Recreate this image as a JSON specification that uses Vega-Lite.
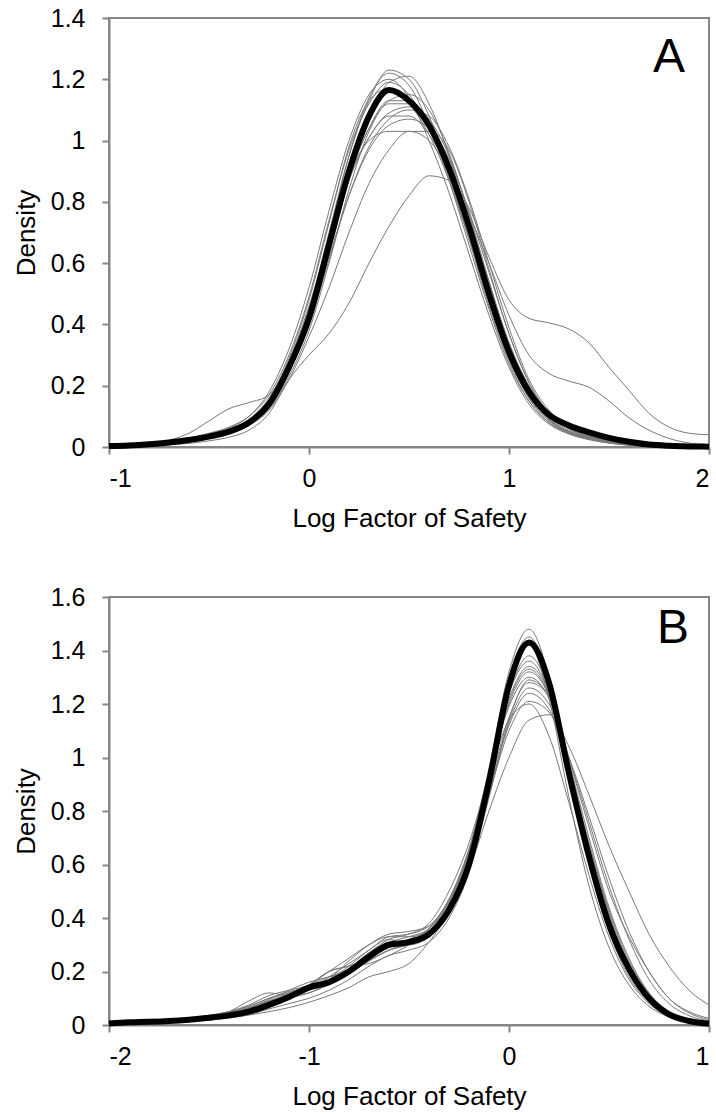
{
"$schema":"https://vega.github.io/schema/vega-lite/v6.json",
"padding":{"left":12,"top":5,"right":5,"bottom":5},
"spacing":52,
"config":{"font":"Liberation Sans","view":{"stroke":"#868686","strokeWidth":2},
"axis":{"grid":false,"domainColor":"#868686","domainWidth":2,"tickColor":"#868686","tickWidth":2,"tickSize":7,"labelFont":"Liberation Sans","labelFontSize":25,"labelColor":"#000000","titleFont":"Liberation Sans","titleFontSize":26,"titleFontWeight":"normal","titleColor":"#000000"}},
"datasets":{
"A":[
{"s":"k","x":-1,"y":0.003},{"s":"k","x":-0.9,"y":0.005},{"s":"k","x":-0.8,"y":0.009},{"s":"k","x":-0.7,"y":0.015},{"s":"k","x":-0.6,"y":0.023},{"s":"k","x":-0.5,"y":0.034},{"s":"k","x":-0.4,"y":0.05},{"s":"k","x":-0.3,"y":0.08},{"s":"k","x":-0.2,"y":0.14},{"s":"k","x":-0.1,"y":0.26},{"s":"k","x":0,"y":0.42},{"s":"k","x":0.1,"y":0.66},{"s":"k","x":0.2,"y":0.9},{"s":"k","x":0.3,"y":1.08},{"s":"k","x":0.4,"y":1.165},{"s":"k","x":0.5,"y":1.13},{"s":"k","x":0.6,"y":1.05},{"s":"k","x":0.7,"y":0.91},{"s":"k","x":0.8,"y":0.72},{"s":"k","x":0.9,"y":0.5},{"s":"k","x":1,"y":0.31},{"s":"k","x":1.1,"y":0.18},{"s":"k","x":1.2,"y":0.105},{"s":"k","x":1.3,"y":0.07},{"s":"k","x":1.4,"y":0.048},{"s":"k","x":1.5,"y":0.03},{"s":"k","x":1.6,"y":0.017},{"s":"k","x":1.7,"y":0.008},{"s":"k","x":1.8,"y":0.004},{"s":"k","x":1.9,"y":0.002},{"s":"k","x":2,"y":0.001},
{"s":"g1","x":-1,"y":0.002},{"s":"g1","x":-0.9,"y":0.004},{"s":"g1","x":-0.8,"y":0.007},{"s":"g1","x":-0.7,"y":0.012},{"s":"g1","x":-0.6,"y":0.02},{"s":"g1","x":-0.5,"y":0.03},{"s":"g1","x":-0.4,"y":0.045},{"s":"g1","x":-0.3,"y":0.075},{"s":"g1","x":-0.2,"y":0.14},{"s":"g1","x":-0.1,"y":0.27},{"s":"g1","x":0,"y":0.45},{"s":"g1","x":0.1,"y":0.7},{"s":"g1","x":0.2,"y":0.95},{"s":"g1","x":0.3,"y":1.13},{"s":"g1","x":0.4,"y":1.23},{"s":"g1","x":0.5,"y":1.2},{"s":"g1","x":0.6,"y":1.08},{"s":"g1","x":0.7,"y":0.9},{"s":"g1","x":0.8,"y":0.68},{"s":"g1","x":0.9,"y":0.46},{"s":"g1","x":1,"y":0.28},{"s":"g1","x":1.1,"y":0.15},{"s":"g1","x":1.2,"y":0.08},{"s":"g1","x":1.3,"y":0.045},{"s":"g1","x":1.4,"y":0.025},{"s":"g1","x":1.5,"y":0.013},{"s":"g1","x":1.6,"y":0.006},{"s":"g1","x":1.7,"y":0.003},{"s":"g1","x":1.8,"y":0.001},{"s":"g1","x":1.9,"y":0.001},{"s":"g1","x":2,"y":0},
{"s":"g2","x":-1,"y":0.002},{"s":"g2","x":-0.9,"y":0.004},{"s":"g2","x":-0.8,"y":0.008},{"s":"g2","x":-0.7,"y":0.014},{"s":"g2","x":-0.6,"y":0.022},{"s":"g2","x":-0.5,"y":0.033},{"s":"g2","x":-0.4,"y":0.05},{"s":"g2","x":-0.3,"y":0.08},{"s":"g2","x":-0.2,"y":0.14},{"s":"g2","x":-0.1,"y":0.25},{"s":"g2","x":0,"y":0.41},{"s":"g2","x":0.1,"y":0.63},{"s":"g2","x":0.2,"y":0.87},{"s":"g2","x":0.3,"y":1.06},{"s":"g2","x":0.4,"y":1.19},{"s":"g2","x":0.5,"y":1.21},{"s":"g2","x":0.6,"y":1.12},{"s":"g2","x":0.7,"y":0.95},{"s":"g2","x":0.8,"y":0.73},{"s":"g2","x":0.9,"y":0.5},{"s":"g2","x":1,"y":0.3},{"s":"g2","x":1.1,"y":0.16},{"s":"g2","x":1.2,"y":0.085},{"s":"g2","x":1.3,"y":0.048},{"s":"g2","x":1.4,"y":0.028},{"s":"g2","x":1.5,"y":0.015},{"s":"g2","x":1.6,"y":0.007},{"s":"g2","x":1.7,"y":0.003},{"s":"g2","x":1.8,"y":0.001},{"s":"g2","x":1.9,"y":0.001},{"s":"g2","x":2,"y":0},
{"s":"g3","x":-1,"y":0.004},{"s":"g3","x":-0.9,"y":0.007},{"s":"g3","x":-0.8,"y":0.012},{"s":"g3","x":-0.7,"y":0.02},{"s":"g3","x":-0.6,"y":0.03},{"s":"g3","x":-0.5,"y":0.045},{"s":"g3","x":-0.4,"y":0.065},{"s":"g3","x":-0.3,"y":0.1},{"s":"g3","x":-0.2,"y":0.17},{"s":"g3","x":-0.1,"y":0.3},{"s":"g3","x":0,"y":0.49},{"s":"g3","x":0.1,"y":0.74},{"s":"g3","x":0.2,"y":0.97},{"s":"g3","x":0.3,"y":1.12},{"s":"g3","x":0.4,"y":1.19},{"s":"g3","x":0.5,"y":1.15},{"s":"g3","x":0.6,"y":1.04},{"s":"g3","x":0.7,"y":0.88},{"s":"g3","x":0.8,"y":0.68},{"s":"g3","x":0.9,"y":0.47},{"s":"g3","x":1,"y":0.29},{"s":"g3","x":1.1,"y":0.16},{"s":"g3","x":1.2,"y":0.09},{"s":"g3","x":1.3,"y":0.05},{"s":"g3","x":1.4,"y":0.03},{"s":"g3","x":1.5,"y":0.016},{"s":"g3","x":1.6,"y":0.008},{"s":"g3","x":1.7,"y":0.004},{"s":"g3","x":1.8,"y":0.002},{"s":"g3","x":1.9,"y":0.001},{"s":"g3","x":2,"y":0},
{"s":"g4","x":-1,"y":0.003},{"s":"g4","x":-0.9,"y":0.006},{"s":"g4","x":-0.8,"y":0.01},{"s":"g4","x":-0.7,"y":0.017},{"s":"g4","x":-0.6,"y":0.026},{"s":"g4","x":-0.5,"y":0.04},{"s":"g4","x":-0.4,"y":0.058},{"s":"g4","x":-0.3,"y":0.09},{"s":"g4","x":-0.2,"y":0.16},{"s":"g4","x":-0.1,"y":0.29},{"s":"g4","x":0,"y":0.48},{"s":"g4","x":0.1,"y":0.73},{"s":"g4","x":0.2,"y":0.98},{"s":"g4","x":0.3,"y":1.13},{"s":"g4","x":0.4,"y":1.17},{"s":"g4","x":0.5,"y":1.12},{"s":"g4","x":0.6,"y":1.02},{"s":"g4","x":0.7,"y":0.87},{"s":"g4","x":0.8,"y":0.68},{"s":"g4","x":0.9,"y":0.48},{"s":"g4","x":1,"y":0.3},{"s":"g4","x":1.1,"y":0.17},{"s":"g4","x":1.2,"y":0.09},{"s":"g4","x":1.3,"y":0.05},{"s":"g4","x":1.4,"y":0.03},{"s":"g4","x":1.5,"y":0.016},{"s":"g4","x":1.6,"y":0.008},{"s":"g4","x":1.7,"y":0.004},{"s":"g4","x":1.8,"y":0.002},{"s":"g4","x":1.9,"y":0.001},{"s":"g4","x":2,"y":0},
{"s":"g5","x":-1,"y":0.002},{"s":"g5","x":-0.9,"y":0.004},{"s":"g5","x":-0.8,"y":0.007},{"s":"g5","x":-0.7,"y":0.012},{"s":"g5","x":-0.6,"y":0.02},{"s":"g5","x":-0.5,"y":0.03},{"s":"g5","x":-0.4,"y":0.045},{"s":"g5","x":-0.3,"y":0.072},{"s":"g5","x":-0.2,"y":0.125},{"s":"g5","x":-0.1,"y":0.23},{"s":"g5","x":0,"y":0.38},{"s":"g5","x":0.1,"y":0.6},{"s":"g5","x":0.2,"y":0.84},{"s":"g5","x":0.3,"y":1.03},{"s":"g5","x":0.4,"y":1.13},{"s":"g5","x":0.5,"y":1.15},{"s":"g5","x":0.6,"y":1.1},{"s":"g5","x":0.7,"y":0.96},{"s":"g5","x":0.8,"y":0.76},{"s":"g5","x":0.9,"y":0.54},{"s":"g5","x":1,"y":0.34},{"s":"g5","x":1.1,"y":0.19},{"s":"g5","x":1.2,"y":0.1},{"s":"g5","x":1.3,"y":0.055},{"s":"g5","x":1.4,"y":0.032},{"s":"g5","x":1.5,"y":0.018},{"s":"g5","x":1.6,"y":0.009},{"s":"g5","x":1.7,"y":0.004},{"s":"g5","x":1.8,"y":0.002},{"s":"g5","x":1.9,"y":0.001},{"s":"g5","x":2,"y":0},
{"s":"g6","x":-1,"y":0.003},{"s":"g6","x":-0.9,"y":0.006},{"s":"g6","x":-0.8,"y":0.012},{"s":"g6","x":-0.7,"y":0.022},{"s":"g6","x":-0.6,"y":0.045},{"s":"g6","x":-0.5,"y":0.085},{"s":"g6","x":-0.4,"y":0.125},{"s":"g6","x":-0.3,"y":0.145},{"s":"g6","x":-0.2,"y":0.17},{"s":"g6","x":-0.1,"y":0.27},{"s":"g6","x":0,"y":0.43},{"s":"g6","x":0.1,"y":0.66},{"s":"g6","x":0.2,"y":0.88},{"s":"g6","x":0.3,"y":1.04},{"s":"g6","x":0.4,"y":1.12},{"s":"g6","x":0.5,"y":1.12},{"s":"g6","x":0.6,"y":1.04},{"s":"g6","x":0.7,"y":0.89},{"s":"g6","x":0.8,"y":0.7},{"s":"g6","x":0.9,"y":0.49},{"s":"g6","x":1,"y":0.3},{"s":"g6","x":1.1,"y":0.17},{"s":"g6","x":1.2,"y":0.09},{"s":"g6","x":1.3,"y":0.05},{"s":"g6","x":1.4,"y":0.03},{"s":"g6","x":1.5,"y":0.016},{"s":"g6","x":1.6,"y":0.008},{"s":"g6","x":1.7,"y":0.004},{"s":"g6","x":1.8,"y":0.002},{"s":"g6","x":1.9,"y":0.001},{"s":"g6","x":2,"y":0},
{"s":"g7","x":-1,"y":0.003},{"s":"g7","x":-0.9,"y":0.005},{"s":"g7","x":-0.8,"y":0.009},{"s":"g7","x":-0.7,"y":0.015},{"s":"g7","x":-0.6,"y":0.024},{"s":"g7","x":-0.5,"y":0.036},{"s":"g7","x":-0.4,"y":0.053},{"s":"g7","x":-0.3,"y":0.085},{"s":"g7","x":-0.2,"y":0.15},{"s":"g7","x":-0.1,"y":0.27},{"s":"g7","x":0,"y":0.44},{"s":"g7","x":0.1,"y":0.66},{"s":"g7","x":0.2,"y":0.87},{"s":"g7","x":0.3,"y":1.01},{"s":"g7","x":0.4,"y":1.09},{"s":"g7","x":0.5,"y":1.11},{"s":"g7","x":0.6,"y":1.07},{"s":"g7","x":0.7,"y":0.95},{"s":"g7","x":0.8,"y":0.76},{"s":"g7","x":0.9,"y":0.54},{"s":"g7","x":1,"y":0.33},{"s":"g7","x":1.1,"y":0.18},{"s":"g7","x":1.2,"y":0.095},{"s":"g7","x":1.3,"y":0.05},{"s":"g7","x":1.4,"y":0.028},{"s":"g7","x":1.5,"y":0.015},{"s":"g7","x":1.6,"y":0.007},{"s":"g7","x":1.7,"y":0.003},{"s":"g7","x":1.8,"y":0.001},{"s":"g7","x":1.9,"y":0.001},{"s":"g7","x":2,"y":0},
{"s":"g8","x":-1,"y":0.003},{"s":"g8","x":-0.9,"y":0.006},{"s":"g8","x":-0.8,"y":0.01},{"s":"g8","x":-0.7,"y":0.016},{"s":"g8","x":-0.6,"y":0.025},{"s":"g8","x":-0.5,"y":0.037},{"s":"g8","x":-0.4,"y":0.055},{"s":"g8","x":-0.3,"y":0.088},{"s":"g8","x":-0.2,"y":0.155},{"s":"g8","x":-0.1,"y":0.28},{"s":"g8","x":0,"y":0.46},{"s":"g8","x":0.1,"y":0.68},{"s":"g8","x":0.2,"y":0.88},{"s":"g8","x":0.3,"y":1.01},{"s":"g8","x":0.4,"y":1.08},{"s":"g8","x":0.5,"y":1.08},{"s":"g8","x":0.6,"y":1.02},{"s":"g8","x":0.7,"y":0.9},{"s":"g8","x":0.8,"y":0.73},{"s":"g8","x":0.9,"y":0.53},{"s":"g8","x":1,"y":0.34},{"s":"g8","x":1.1,"y":0.2},{"s":"g8","x":1.2,"y":0.11},{"s":"g8","x":1.3,"y":0.06},{"s":"g8","x":1.4,"y":0.035},{"s":"g8","x":1.5,"y":0.02},{"s":"g8","x":1.6,"y":0.01},{"s":"g8","x":1.7,"y":0.005},{"s":"g8","x":1.8,"y":0.002},{"s":"g8","x":1.9,"y":0.001},{"s":"g8","x":2,"y":0},
{"s":"g9","x":-1,"y":0.002},{"s":"g9","x":-0.9,"y":0.004},{"s":"g9","x":-0.8,"y":0.008},{"s":"g9","x":-0.7,"y":0.013},{"s":"g9","x":-0.6,"y":0.021},{"s":"g9","x":-0.5,"y":0.032},{"s":"g9","x":-0.4,"y":0.048},{"s":"g9","x":-0.3,"y":0.077},{"s":"g9","x":-0.2,"y":0.135},{"s":"g9","x":-0.1,"y":0.25},{"s":"g9","x":0,"y":0.41},{"s":"g9","x":0.1,"y":0.62},{"s":"g9","x":0.2,"y":0.82},{"s":"g9","x":0.3,"y":0.97},{"s":"g9","x":0.4,"y":1.05},{"s":"g9","x":0.5,"y":1.07},{"s":"g9","x":0.6,"y":1.04},{"s":"g9","x":0.7,"y":0.94},{"s":"g9","x":0.8,"y":0.77},{"s":"g9","x":0.9,"y":0.57},{"s":"g9","x":1,"y":0.37},{"s":"g9","x":1.1,"y":0.21},{"s":"g9","x":1.2,"y":0.11},{"s":"g9","x":1.3,"y":0.06},{"s":"g9","x":1.4,"y":0.034},{"s":"g9","x":1.5,"y":0.019},{"s":"g9","x":1.6,"y":0.009},{"s":"g9","x":1.7,"y":0.004},{"s":"g9","x":1.8,"y":0.002},{"s":"g9","x":1.9,"y":0.001},{"s":"g9","x":2,"y":0},
{"s":"g10","x":-1,"y":0.003},{"s":"g10","x":-0.9,"y":0.005},{"s":"g10","x":-0.8,"y":0.009},{"s":"g10","x":-0.7,"y":0.015},{"s":"g10","x":-0.6,"y":0.024},{"s":"g10","x":-0.5,"y":0.036},{"s":"g10","x":-0.4,"y":0.053},{"s":"g10","x":-0.3,"y":0.085},{"s":"g10","x":-0.2,"y":0.15},{"s":"g10","x":-0.1,"y":0.27},{"s":"g10","x":0,"y":0.45},{"s":"g10","x":0.1,"y":0.68},{"s":"g10","x":0.2,"y":0.88},{"s":"g10","x":0.3,"y":1},{"s":"g10","x":0.4,"y":1.03},{"s":"g10","x":0.5,"y":1.03},{"s":"g10","x":0.6,"y":1.03},{"s":"g10","x":0.7,"y":0.97},{"s":"g10","x":0.8,"y":0.8},{"s":"g10","x":0.9,"y":0.58},{"s":"g10","x":1,"y":0.37},{"s":"g10","x":1.1,"y":0.21},{"s":"g10","x":1.2,"y":0.11},{"s":"g10","x":1.3,"y":0.06},{"s":"g10","x":1.4,"y":0.034},{"s":"g10","x":1.5,"y":0.019},{"s":"g10","x":1.6,"y":0.009},{"s":"g10","x":1.7,"y":0.004},{"s":"g10","x":1.8,"y":0.002},{"s":"g10","x":1.9,"y":0.001},{"s":"g10","x":2,"y":0},
{"s":"g11","x":-1,"y":0.002},{"s":"g11","x":-0.9,"y":0.004},{"s":"g11","x":-0.8,"y":0.007},{"s":"g11","x":-0.7,"y":0.012},{"s":"g11","x":-0.6,"y":0.019},{"s":"g11","x":-0.5,"y":0.029},{"s":"g11","x":-0.4,"y":0.044},{"s":"g11","x":-0.3,"y":0.072},{"s":"g11","x":-0.2,"y":0.13},{"s":"g11","x":-0.1,"y":0.25},{"s":"g11","x":0,"y":0.43},{"s":"g11","x":0.1,"y":0.69},{"s":"g11","x":0.2,"y":0.95},{"s":"g11","x":0.3,"y":1.14},{"s":"g11","x":0.4,"y":1.22},{"s":"g11","x":0.5,"y":1.18},{"s":"g11","x":0.6,"y":1.05},{"s":"g11","x":0.7,"y":0.87},{"s":"g11","x":0.8,"y":0.66},{"s":"g11","x":0.9,"y":0.45},{"s":"g11","x":1,"y":0.27},{"s":"g11","x":1.1,"y":0.15},{"s":"g11","x":1.2,"y":0.08},{"s":"g11","x":1.3,"y":0.045},{"s":"g11","x":1.4,"y":0.026},{"s":"g11","x":1.5,"y":0.014},{"s":"g11","x":1.6,"y":0.007},{"s":"g11","x":1.7,"y":0.003},{"s":"g11","x":1.8,"y":0.001},{"s":"g11","x":1.9,"y":0.001},{"s":"g11","x":2,"y":0},
{"s":"g12","x":-1,"y":0.002},{"s":"g12","x":-0.9,"y":0.004},{"s":"g12","x":-0.8,"y":0.007},{"s":"g12","x":-0.7,"y":0.012},{"s":"g12","x":-0.6,"y":0.019},{"s":"g12","x":-0.5,"y":0.029},{"s":"g12","x":-0.4,"y":0.043},{"s":"g12","x":-0.3,"y":0.07},{"s":"g12","x":-0.2,"y":0.12},{"s":"g12","x":-0.1,"y":0.22},{"s":"g12","x":0,"y":0.36},{"s":"g12","x":0.1,"y":0.52},{"s":"g12","x":0.2,"y":0.7},{"s":"g12","x":0.3,"y":0.86},{"s":"g12","x":0.4,"y":0.97},{"s":"g12","x":0.5,"y":1.03},{"s":"g12","x":0.6,"y":1},{"s":"g12","x":0.7,"y":0.9},{"s":"g12","x":0.8,"y":0.76},{"s":"g12","x":0.9,"y":0.6},{"s":"g12","x":1,"y":0.43},{"s":"g12","x":1.1,"y":0.3},{"s":"g12","x":1.2,"y":0.24},{"s":"g12","x":1.3,"y":0.215},{"s":"g12","x":1.4,"y":0.195},{"s":"g12","x":1.5,"y":0.15},{"s":"g12","x":1.6,"y":0.095},{"s":"g12","x":1.7,"y":0.055},{"s":"g12","x":1.8,"y":0.028},{"s":"g12","x":1.9,"y":0.013},{"s":"g12","x":2,"y":0.006},
{"s":"g13","x":-1,"y":0.001},{"s":"g13","x":-0.9,"y":0.002},{"s":"g13","x":-0.8,"y":0.004},{"s":"g13","x":-0.7,"y":0.007},{"s":"g13","x":-0.6,"y":0.012},{"s":"g13","x":-0.5,"y":0.02},{"s":"g13","x":-0.4,"y":0.032},{"s":"g13","x":-0.3,"y":0.055},{"s":"g13","x":-0.2,"y":0.11},{"s":"g13","x":-0.1,"y":0.22},{"s":"g13","x":0,"y":0.3},{"s":"g13","x":0.1,"y":0.37},{"s":"g13","x":0.2,"y":0.47},{"s":"g13","x":0.3,"y":0.6},{"s":"g13","x":0.4,"y":0.72},{"s":"g13","x":0.5,"y":0.82},{"s":"g13","x":0.6,"y":0.885},{"s":"g13","x":0.7,"y":0.87},{"s":"g13","x":0.8,"y":0.78},{"s":"g13","x":0.9,"y":0.62},{"s":"g13","x":1,"y":0.48},{"s":"g13","x":1.1,"y":0.42},{"s":"g13","x":1.2,"y":0.405},{"s":"g13","x":1.3,"y":0.385},{"s":"g13","x":1.4,"y":0.34},{"s":"g13","x":1.5,"y":0.26},{"s":"g13","x":1.6,"y":0.185},{"s":"g13","x":1.7,"y":0.11},{"s":"g13","x":1.8,"y":0.065},{"s":"g13","x":1.9,"y":0.045},{"s":"g13","x":2,"y":0.04},
{"s":"g14","x":-1,"y":0.003},{"s":"g14","x":-0.9,"y":0.006},{"s":"g14","x":-0.8,"y":0.011},{"s":"g14","x":-0.7,"y":0.018},{"s":"g14","x":-0.6,"y":0.028},{"s":"g14","x":-0.5,"y":0.042},{"s":"g14","x":-0.4,"y":0.062},{"s":"g14","x":-0.3,"y":0.1},{"s":"g14","x":-0.2,"y":0.18},{"s":"g14","x":-0.1,"y":0.32},{"s":"g14","x":0,"y":0.52},{"s":"g14","x":0.1,"y":0.77},{"s":"g14","x":0.2,"y":1},{"s":"g14","x":0.3,"y":1.15},{"s":"g14","x":0.4,"y":1.2},{"s":"g14","x":0.5,"y":1.14},{"s":"g14","x":0.6,"y":1},{"s":"g14","x":0.7,"y":0.83},{"s":"g14","x":0.8,"y":0.63},{"s":"g14","x":0.9,"y":0.43},{"s":"g14","x":1,"y":0.26},{"s":"g14","x":1.1,"y":0.14},{"s":"g14","x":1.2,"y":0.075},{"s":"g14","x":1.3,"y":0.042},{"s":"g14","x":1.4,"y":0.024},{"s":"g14","x":1.5,"y":0.013},{"s":"g14","x":1.6,"y":0.006},{"s":"g14","x":1.7,"y":0.003},{"s":"g14","x":1.8,"y":0.001},{"s":"g14","x":1.9,"y":0.001},{"s":"g14","x":2,"y":0},
{"s":"g15","x":-1,"y":0.002},{"s":"g15","x":-0.9,"y":0.005},{"s":"g15","x":-0.8,"y":0.009},{"s":"g15","x":-0.7,"y":0.015},{"s":"g15","x":-0.6,"y":0.023},{"s":"g15","x":-0.5,"y":0.035},{"s":"g15","x":-0.4,"y":0.052},{"s":"g15","x":-0.3,"y":0.082},{"s":"g15","x":-0.2,"y":0.145},{"s":"g15","x":-0.1,"y":0.265},{"s":"g15","x":0,"y":0.43},{"s":"g15","x":0.1,"y":0.66},{"s":"g15","x":0.2,"y":0.88},{"s":"g15","x":0.3,"y":1.04},{"s":"g15","x":0.4,"y":1.13},{"s":"g15","x":0.5,"y":1.13},{"s":"g15","x":0.6,"y":1.05},{"s":"g15","x":0.7,"y":0.9},{"s":"g15","x":0.8,"y":0.71},{"s":"g15","x":0.9,"y":0.5},{"s":"g15","x":1,"y":0.31},{"s":"g15","x":1.1,"y":0.17},{"s":"g15","x":1.2,"y":0.09},{"s":"g15","x":1.3,"y":0.05},{"s":"g15","x":1.4,"y":0.029},{"s":"g15","x":1.5,"y":0.016},{"s":"g15","x":1.6,"y":0.008},{"s":"g15","x":1.7,"y":0.004},{"s":"g15","x":1.8,"y":0.002},{"s":"g15","x":1.9,"y":0.001},{"s":"g15","x":2,"y":0},
{"s":"g16","x":-1,"y":0.002},{"s":"g16","x":-0.9,"y":0.004},{"s":"g16","x":-0.8,"y":0.008},{"s":"g16","x":-0.7,"y":0.014},{"s":"g16","x":-0.6,"y":0.022},{"s":"g16","x":-0.5,"y":0.033},{"s":"g16","x":-0.4,"y":0.049},{"s":"g16","x":-0.3,"y":0.078},{"s":"g16","x":-0.2,"y":0.135},{"s":"g16","x":-0.1,"y":0.245},{"s":"g16","x":0,"y":0.4},{"s":"g16","x":0.1,"y":0.61},{"s":"g16","x":0.2,"y":0.82},{"s":"g16","x":0.3,"y":0.98},{"s":"g16","x":0.4,"y":1.07},{"s":"g16","x":0.5,"y":1.1},{"s":"g16","x":0.6,"y":1.08},{"s":"g16","x":0.7,"y":0.98},{"s":"g16","x":0.8,"y":0.81},{"s":"g16","x":0.9,"y":0.6},{"s":"g16","x":1,"y":0.39},{"s":"g16","x":1.1,"y":0.22},{"s":"g16","x":1.2,"y":0.12},{"s":"g16","x":1.3,"y":0.065},{"s":"g16","x":1.4,"y":0.036},{"s":"g16","x":1.5,"y":0.02},{"s":"g16","x":1.6,"y":0.01},{"s":"g16","x":1.7,"y":0.005},{"s":"g16","x":1.8,"y":0.002},{"s":"g16","x":1.9,"y":0.001},{"s":"g16","x":2,"y":0}
],
"B":[
{"s":"k","x":-2,"y":0.006},{"s":"k","x":-1.9,"y":0.01},{"s":"k","x":-1.8,"y":0.012},{"s":"k","x":-1.7,"y":0.015},{"s":"k","x":-1.6,"y":0.02},{"s":"k","x":-1.5,"y":0.027},{"s":"k","x":-1.4,"y":0.036},{"s":"k","x":-1.3,"y":0.05},{"s":"k","x":-1.2,"y":0.075},{"s":"k","x":-1.1,"y":0.105},{"s":"k","x":-1,"y":0.14},{"s":"k","x":-0.9,"y":0.16},{"s":"k","x":-0.8,"y":0.2},{"s":"k","x":-0.7,"y":0.255},{"s":"k","x":-0.6,"y":0.3},{"s":"k","x":-0.5,"y":0.31},{"s":"k","x":-0.4,"y":0.34},{"s":"k","x":-0.3,"y":0.43},{"s":"k","x":-0.2,"y":0.6},{"s":"k","x":-0.1,"y":0.91},{"s":"k","x":0,"y":1.27},{"s":"k","x":0.1,"y":1.43},{"s":"k","x":0.2,"y":1.28},{"s":"k","x":0.3,"y":0.94},{"s":"k","x":0.4,"y":0.63},{"s":"k","x":0.5,"y":0.375},{"s":"k","x":0.6,"y":0.21},{"s":"k","x":0.7,"y":0.1},{"s":"k","x":0.8,"y":0.04},{"s":"k","x":0.9,"y":0.015},{"s":"k","x":1,"y":0.005},
{"s":"h1","x":-2,"y":0.008},{"s":"h1","x":-1.9,"y":0.015},{"s":"h1","x":-1.8,"y":0.018},{"s":"h1","x":-1.7,"y":0.02},{"s":"h1","x":-1.6,"y":0.025},{"s":"h1","x":-1.5,"y":0.032},{"s":"h1","x":-1.4,"y":0.045},{"s":"h1","x":-1.3,"y":0.065},{"s":"h1","x":-1.2,"y":0.09},{"s":"h1","x":-1.1,"y":0.11},{"s":"h1","x":-1,"y":0.13},{"s":"h1","x":-0.9,"y":0.17},{"s":"h1","x":-0.8,"y":0.22},{"s":"h1","x":-0.7,"y":0.28},{"s":"h1","x":-0.6,"y":0.32},{"s":"h1","x":-0.5,"y":0.3},{"s":"h1","x":-0.4,"y":0.33},{"s":"h1","x":-0.3,"y":0.44},{"s":"h1","x":-0.2,"y":0.64},{"s":"h1","x":-0.1,"y":0.96},{"s":"h1","x":0,"y":1.32},{"s":"h1","x":0.1,"y":1.48},{"s":"h1","x":0.2,"y":1.3},{"s":"h1","x":0.3,"y":0.93},{"s":"h1","x":0.4,"y":0.6},{"s":"h1","x":0.5,"y":0.35},{"s":"h1","x":0.6,"y":0.18},{"s":"h1","x":0.7,"y":0.085},{"s":"h1","x":0.8,"y":0.035},{"s":"h1","x":0.9,"y":0.012},{"s":"h1","x":1,"y":0.004},
{"s":"h2","x":-2,"y":0.004},{"s":"h2","x":-1.9,"y":0.008},{"s":"h2","x":-1.8,"y":0.012},{"s":"h2","x":-1.7,"y":0.017},{"s":"h2","x":-1.6,"y":0.024},{"s":"h2","x":-1.5,"y":0.034},{"s":"h2","x":-1.4,"y":0.048},{"s":"h2","x":-1.3,"y":0.07},{"s":"h2","x":-1.2,"y":0.1},{"s":"h2","x":-1.1,"y":0.125},{"s":"h2","x":-1,"y":0.14},{"s":"h2","x":-0.9,"y":0.16},{"s":"h2","x":-0.8,"y":0.21},{"s":"h2","x":-0.7,"y":0.27},{"s":"h2","x":-0.6,"y":0.31},{"s":"h2","x":-0.5,"y":0.33},{"s":"h2","x":-0.4,"y":0.36},{"s":"h2","x":-0.3,"y":0.45},{"s":"h2","x":-0.2,"y":0.63},{"s":"h2","x":-0.1,"y":0.94},{"s":"h2","x":0,"y":1.3},{"s":"h2","x":0.1,"y":1.45},{"s":"h2","x":0.2,"y":1.29},{"s":"h2","x":0.3,"y":0.93},{"s":"h2","x":0.4,"y":0.61},{"s":"h2","x":0.5,"y":0.36},{"s":"h2","x":0.6,"y":0.19},{"s":"h2","x":0.7,"y":0.09},{"s":"h2","x":0.8,"y":0.037},{"s":"h2","x":0.9,"y":0.013},{"s":"h2","x":1,"y":0.004},
{"s":"h3","x":-2,"y":0.006},{"s":"h3","x":-1.9,"y":0.012},{"s":"h3","x":-1.8,"y":0.015},{"s":"h3","x":-1.7,"y":0.019},{"s":"h3","x":-1.6,"y":0.026},{"s":"h3","x":-1.5,"y":0.036},{"s":"h3","x":-1.4,"y":0.05},{"s":"h3","x":-1.3,"y":0.07},{"s":"h3","x":-1.2,"y":0.1},{"s":"h3","x":-1.1,"y":0.12},{"s":"h3","x":-1,"y":0.15},{"s":"h3","x":-0.9,"y":0.2},{"s":"h3","x":-0.8,"y":0.22},{"s":"h3","x":-0.7,"y":0.25},{"s":"h3","x":-0.6,"y":0.29},{"s":"h3","x":-0.5,"y":0.32},{"s":"h3","x":-0.4,"y":0.36},{"s":"h3","x":-0.3,"y":0.46},{"s":"h3","x":-0.2,"y":0.64},{"s":"h3","x":-0.1,"y":0.93},{"s":"h3","x":0,"y":1.24},{"s":"h3","x":0.1,"y":1.38},{"s":"h3","x":0.2,"y":1.25},{"s":"h3","x":0.3,"y":0.93},{"s":"h3","x":0.4,"y":0.62},{"s":"h3","x":0.5,"y":0.37},{"s":"h3","x":0.6,"y":0.2},{"s":"h3","x":0.7,"y":0.095},{"s":"h3","x":0.8,"y":0.04},{"s":"h3","x":0.9,"y":0.014},{"s":"h3","x":1,"y":0.005},
{"s":"h4","x":-2,"y":0.003},{"s":"h4","x":-1.9,"y":0.006},{"s":"h4","x":-1.8,"y":0.009},{"s":"h4","x":-1.7,"y":0.013},{"s":"h4","x":-1.6,"y":0.019},{"s":"h4","x":-1.5,"y":0.027},{"s":"h4","x":-1.4,"y":0.04},{"s":"h4","x":-1.3,"y":0.06},{"s":"h4","x":-1.2,"y":0.085},{"s":"h4","x":-1.1,"y":0.105},{"s":"h4","x":-1,"y":0.13},{"s":"h4","x":-0.9,"y":0.17},{"s":"h4","x":-0.8,"y":0.24},{"s":"h4","x":-0.7,"y":0.3},{"s":"h4","x":-0.6,"y":0.34},{"s":"h4","x":-0.5,"y":0.35},{"s":"h4","x":-0.4,"y":0.37},{"s":"h4","x":-0.3,"y":0.46},{"s":"h4","x":-0.2,"y":0.65},{"s":"h4","x":-0.1,"y":0.95},{"s":"h4","x":0,"y":1.24},{"s":"h4","x":0.1,"y":1.36},{"s":"h4","x":0.2,"y":1.24},{"s":"h4","x":0.3,"y":0.94},{"s":"h4","x":0.4,"y":0.64},{"s":"h4","x":0.5,"y":0.39},{"s":"h4","x":0.6,"y":0.21},{"s":"h4","x":0.7,"y":0.1},{"s":"h4","x":0.8,"y":0.042},{"s":"h4","x":0.9,"y":0.015},{"s":"h4","x":1,"y":0.005},
{"s":"h5","x":-2,"y":0.005},{"s":"h5","x":-1.9,"y":0.01},{"s":"h5","x":-1.8,"y":0.013},{"s":"h5","x":-1.7,"y":0.017},{"s":"h5","x":-1.6,"y":0.023},{"s":"h5","x":-1.5,"y":0.031},{"s":"h5","x":-1.4,"y":0.043},{"s":"h5","x":-1.3,"y":0.06},{"s":"h5","x":-1.2,"y":0.08},{"s":"h5","x":-1.1,"y":0.1},{"s":"h5","x":-1,"y":0.13},{"s":"h5","x":-0.9,"y":0.18},{"s":"h5","x":-0.8,"y":0.23},{"s":"h5","x":-0.7,"y":0.28},{"s":"h5","x":-0.6,"y":0.33},{"s":"h5","x":-0.5,"y":0.34},{"s":"h5","x":-0.4,"y":0.37},{"s":"h5","x":-0.3,"y":0.47},{"s":"h5","x":-0.2,"y":0.65},{"s":"h5","x":-0.1,"y":0.94},{"s":"h5","x":0,"y":1.22},{"s":"h5","x":0.1,"y":1.34},{"s":"h5","x":0.2,"y":1.24},{"s":"h5","x":0.3,"y":0.96},{"s":"h5","x":0.4,"y":0.66},{"s":"h5","x":0.5,"y":0.4},{"s":"h5","x":0.6,"y":0.22},{"s":"h5","x":0.7,"y":0.105},{"s":"h5","x":0.8,"y":0.045},{"s":"h5","x":0.9,"y":0.016},{"s":"h5","x":1,"y":0.005},
{"s":"h6","x":-2,"y":0.004},{"s":"h6","x":-1.9,"y":0.008},{"s":"h6","x":-1.8,"y":0.011},{"s":"h6","x":-1.7,"y":0.015},{"s":"h6","x":-1.6,"y":0.021},{"s":"h6","x":-1.5,"y":0.03},{"s":"h6","x":-1.4,"y":0.043},{"s":"h6","x":-1.3,"y":0.065},{"s":"h6","x":-1.2,"y":0.095},{"s":"h6","x":-1.1,"y":0.13},{"s":"h6","x":-1,"y":0.16},{"s":"h6","x":-0.9,"y":0.18},{"s":"h6","x":-0.8,"y":0.2},{"s":"h6","x":-0.7,"y":0.24},{"s":"h6","x":-0.6,"y":0.28},{"s":"h6","x":-0.5,"y":0.31},{"s":"h6","x":-0.4,"y":0.36},{"s":"h6","x":-0.3,"y":0.47},{"s":"h6","x":-0.2,"y":0.65},{"s":"h6","x":-0.1,"y":0.93},{"s":"h6","x":0,"y":1.2},{"s":"h6","x":0.1,"y":1.32},{"s":"h6","x":0.2,"y":1.23},{"s":"h6","x":0.3,"y":0.97},{"s":"h6","x":0.4,"y":0.68},{"s":"h6","x":0.5,"y":0.42},{"s":"h6","x":0.6,"y":0.23},{"s":"h6","x":0.7,"y":0.11},{"s":"h6","x":0.8,"y":0.047},{"s":"h6","x":0.9,"y":0.017},{"s":"h6","x":1,"y":0.006},
{"s":"h7","x":-2,"y":0.006},{"s":"h7","x":-1.9,"y":0.011},{"s":"h7","x":-1.8,"y":0.014},{"s":"h7","x":-1.7,"y":0.018},{"s":"h7","x":-1.6,"y":0.024},{"s":"h7","x":-1.5,"y":0.033},{"s":"h7","x":-1.4,"y":0.046},{"s":"h7","x":-1.3,"y":0.063},{"s":"h7","x":-1.2,"y":0.085},{"s":"h7","x":-1.1,"y":0.11},{"s":"h7","x":-1,"y":0.15},{"s":"h7","x":-0.9,"y":0.2},{"s":"h7","x":-0.8,"y":0.22},{"s":"h7","x":-0.7,"y":0.23},{"s":"h7","x":-0.6,"y":0.26},{"s":"h7","x":-0.5,"y":0.3},{"s":"h7","x":-0.4,"y":0.36},{"s":"h7","x":-0.3,"y":0.47},{"s":"h7","x":-0.2,"y":0.66},{"s":"h7","x":-0.1,"y":0.94},{"s":"h7","x":0,"y":1.19},{"s":"h7","x":0.1,"y":1.3},{"s":"h7","x":0.2,"y":1.22},{"s":"h7","x":0.3,"y":0.96},{"s":"h7","x":0.4,"y":0.67},{"s":"h7","x":0.5,"y":0.41},{"s":"h7","x":0.6,"y":0.22},{"s":"h7","x":0.7,"y":0.105},{"s":"h7","x":0.8,"y":0.045},{"s":"h7","x":0.9,"y":0.016},{"s":"h7","x":1,"y":0.005},
{"s":"h8","x":-2,"y":0.003},{"s":"h8","x":-1.9,"y":0.006},{"s":"h8","x":-1.8,"y":0.009},{"s":"h8","x":-1.7,"y":0.014},{"s":"h8","x":-1.6,"y":0.02},{"s":"h8","x":-1.5,"y":0.028},{"s":"h8","x":-1.4,"y":0.04},{"s":"h8","x":-1.3,"y":0.058},{"s":"h8","x":-1.2,"y":0.083},{"s":"h8","x":-1.1,"y":0.11},{"s":"h8","x":-1,"y":0.14},{"s":"h8","x":-0.9,"y":0.17},{"s":"h8","x":-0.8,"y":0.2},{"s":"h8","x":-0.7,"y":0.25},{"s":"h8","x":-0.6,"y":0.3},{"s":"h8","x":-0.5,"y":0.32},{"s":"h8","x":-0.4,"y":0.35},{"s":"h8","x":-0.3,"y":0.44},{"s":"h8","x":-0.2,"y":0.61},{"s":"h8","x":-0.1,"y":0.88},{"s":"h8","x":0,"y":1.15},{"s":"h8","x":0.1,"y":1.28},{"s":"h8","x":0.2,"y":1.23},{"s":"h8","x":0.3,"y":1},{"s":"h8","x":0.4,"y":0.76},{"s":"h8","x":0.5,"y":0.52},{"s":"h8","x":0.6,"y":0.32},{"s":"h8","x":0.7,"y":0.17},{"s":"h8","x":0.8,"y":0.08},{"s":"h8","x":0.9,"y":0.035},{"s":"h8","x":1,"y":0.015},
{"s":"h9","x":-2,"y":0.004},{"s":"h9","x":-1.9,"y":0.008},{"s":"h9","x":-1.8,"y":0.011},{"s":"h9","x":-1.7,"y":0.015},{"s":"h9","x":-1.6,"y":0.021},{"s":"h9","x":-1.5,"y":0.03},{"s":"h9","x":-1.4,"y":0.042},{"s":"h9","x":-1.3,"y":0.06},{"s":"h9","x":-1.2,"y":0.085},{"s":"h9","x":-1.1,"y":0.115},{"s":"h9","x":-1,"y":0.145},{"s":"h9","x":-0.9,"y":0.17},{"s":"h9","x":-0.8,"y":0.2},{"s":"h9","x":-0.7,"y":0.24},{"s":"h9","x":-0.6,"y":0.28},{"s":"h9","x":-0.5,"y":0.3},{"s":"h9","x":-0.4,"y":0.33},{"s":"h9","x":-0.3,"y":0.42},{"s":"h9","x":-0.2,"y":0.59},{"s":"h9","x":-0.1,"y":0.86},{"s":"h9","x":0,"y":1.13},{"s":"h9","x":0.1,"y":1.26},{"s":"h9","x":0.2,"y":1.2},{"s":"h9","x":0.3,"y":0.99},{"s":"h9","x":0.4,"y":0.74},{"s":"h9","x":0.5,"y":0.5},{"s":"h9","x":0.6,"y":0.33},{"s":"h9","x":0.7,"y":0.2},{"s":"h9","x":0.8,"y":0.1},{"s":"h9","x":0.9,"y":0.05},{"s":"h9","x":1,"y":0.025},
{"s":"h10","x":-2,"y":0.005},{"s":"h10","x":-1.9,"y":0.009},{"s":"h10","x":-1.8,"y":0.012},{"s":"h10","x":-1.7,"y":0.016},{"s":"h10","x":-1.6,"y":0.022},{"s":"h10","x":-1.5,"y":0.031},{"s":"h10","x":-1.4,"y":0.044},{"s":"h10","x":-1.3,"y":0.062},{"s":"h10","x":-1.2,"y":0.09},{"s":"h10","x":-1.1,"y":0.12},{"s":"h10","x":-1,"y":0.15},{"s":"h10","x":-0.9,"y":0.18},{"s":"h10","x":-0.8,"y":0.21},{"s":"h10","x":-0.7,"y":0.26},{"s":"h10","x":-0.6,"y":0.3},{"s":"h10","x":-0.5,"y":0.32},{"s":"h10","x":-0.4,"y":0.35},{"s":"h10","x":-0.3,"y":0.44},{"s":"h10","x":-0.2,"y":0.61},{"s":"h10","x":-0.1,"y":0.87},{"s":"h10","x":0,"y":1.12},{"s":"h10","x":0.1,"y":1.24},{"s":"h10","x":0.2,"y":1.18},{"s":"h10","x":0.3,"y":0.95},{"s":"h10","x":0.4,"y":0.68},{"s":"h10","x":0.5,"y":0.43},{"s":"h10","x":0.6,"y":0.24},{"s":"h10","x":0.7,"y":0.12},{"s":"h10","x":0.8,"y":0.05},{"s":"h10","x":0.9,"y":0.018},{"s":"h10","x":1,"y":0.006},
{"s":"h11","x":-2,"y":0.004},{"s":"h11","x":-1.9,"y":0.008},{"s":"h11","x":-1.8,"y":0.011},{"s":"h11","x":-1.7,"y":0.015},{"s":"h11","x":-1.6,"y":0.021},{"s":"h11","x":-1.5,"y":0.029},{"s":"h11","x":-1.4,"y":0.041},{"s":"h11","x":-1.3,"y":0.058},{"s":"h11","x":-1.2,"y":0.08},{"s":"h11","x":-1.1,"y":0.1},{"s":"h11","x":-1,"y":0.12},{"s":"h11","x":-0.9,"y":0.15},{"s":"h11","x":-0.8,"y":0.19},{"s":"h11","x":-0.7,"y":0.24},{"s":"h11","x":-0.6,"y":0.28},{"s":"h11","x":-0.5,"y":0.3},{"s":"h11","x":-0.4,"y":0.33},{"s":"h11","x":-0.3,"y":0.43},{"s":"h11","x":-0.2,"y":0.6},{"s":"h11","x":-0.1,"y":0.86},{"s":"h11","x":0,"y":1.1},{"s":"h11","x":0.1,"y":1.21},{"s":"h11","x":0.2,"y":1.17},{"s":"h11","x":0.3,"y":1},{"s":"h11","x":0.4,"y":0.78},{"s":"h11","x":0.5,"y":0.55},{"s":"h11","x":0.6,"y":0.35},{"s":"h11","x":0.7,"y":0.2},{"s":"h11","x":0.8,"y":0.1},{"s":"h11","x":0.9,"y":0.045},{"s":"h11","x":1,"y":0.02},
{"s":"h12","x":-2,"y":0.002},{"s":"h12","x":-1.9,"y":0.004},{"s":"h12","x":-1.8,"y":0.006},{"s":"h12","x":-1.7,"y":0.009},{"s":"h12","x":-1.6,"y":0.013},{"s":"h12","x":-1.5,"y":0.018},{"s":"h12","x":-1.4,"y":0.026},{"s":"h12","x":-1.3,"y":0.037},{"s":"h12","x":-1.2,"y":0.05},{"s":"h12","x":-1.1,"y":0.065},{"s":"h12","x":-1,"y":0.085},{"s":"h12","x":-0.9,"y":0.11},{"s":"h12","x":-0.8,"y":0.14},{"s":"h12","x":-0.7,"y":0.18},{"s":"h12","x":-0.6,"y":0.2},{"s":"h12","x":-0.5,"y":0.23},{"s":"h12","x":-0.4,"y":0.31},{"s":"h12","x":-0.3,"y":0.42},{"s":"h12","x":-0.2,"y":0.58},{"s":"h12","x":-0.1,"y":0.8},{"s":"h12","x":0,"y":1},{"s":"h12","x":0.1,"y":1.14},{"s":"h12","x":0.2,"y":1.16},{"s":"h12","x":0.3,"y":1.04},{"s":"h12","x":0.4,"y":0.86},{"s":"h12","x":0.5,"y":0.67},{"s":"h12","x":0.6,"y":0.5},{"s":"h12","x":0.7,"y":0.34},{"s":"h12","x":0.8,"y":0.22},{"s":"h12","x":0.9,"y":0.13},{"s":"h12","x":1,"y":0.075},
{"s":"h13","x":-2,"y":0.007},{"s":"h13","x":-1.9,"y":0.013},{"s":"h13","x":-1.8,"y":0.016},{"s":"h13","x":-1.7,"y":0.02},{"s":"h13","x":-1.6,"y":0.026},{"s":"h13","x":-1.5,"y":0.035},{"s":"h13","x":-1.4,"y":0.05},{"s":"h13","x":-1.3,"y":0.075},{"s":"h13","x":-1.2,"y":0.11},{"s":"h13","x":-1.1,"y":0.13},{"s":"h13","x":-1,"y":0.15},{"s":"h13","x":-0.9,"y":0.2},{"s":"h13","x":-0.8,"y":0.25},{"s":"h13","x":-0.7,"y":0.3},{"s":"h13","x":-0.6,"y":0.33},{"s":"h13","x":-0.5,"y":0.33},{"s":"h13","x":-0.4,"y":0.35},{"s":"h13","x":-0.3,"y":0.44},{"s":"h13","x":-0.2,"y":0.63},{"s":"h13","x":-0.1,"y":0.95},{"s":"h13","x":0,"y":1.29},{"s":"h13","x":0.1,"y":1.42},{"s":"h13","x":0.2,"y":1.22},{"s":"h13","x":0.3,"y":0.85},{"s":"h13","x":0.4,"y":0.52},{"s":"h13","x":0.5,"y":0.29},{"s":"h13","x":0.6,"y":0.15},{"s":"h13","x":0.7,"y":0.07},{"s":"h13","x":0.8,"y":0.03},{"s":"h13","x":0.9,"y":0.011},{"s":"h13","x":1,"y":0.004},
{"s":"h14","x":-2,"y":0.003},{"s":"h14","x":-1.9,"y":0.006},{"s":"h14","x":-1.8,"y":0.01},{"s":"h14","x":-1.7,"y":0.014},{"s":"h14","x":-1.6,"y":0.02},{"s":"h14","x":-1.5,"y":0.03},{"s":"h14","x":-1.4,"y":0.05},{"s":"h14","x":-1.3,"y":0.09},{"s":"h14","x":-1.2,"y":0.12},{"s":"h14","x":-1.1,"y":0.11},{"s":"h14","x":-1,"y":0.12},{"s":"h14","x":-0.9,"y":0.16},{"s":"h14","x":-0.8,"y":0.21},{"s":"h14","x":-0.7,"y":0.27},{"s":"h14","x":-0.6,"y":0.3},{"s":"h14","x":-0.5,"y":0.31},{"s":"h14","x":-0.4,"y":0.35},{"s":"h14","x":-0.3,"y":0.45},{"s":"h14","x":-0.2,"y":0.63},{"s":"h14","x":-0.1,"y":0.92},{"s":"h14","x":0,"y":1.21},{"s":"h14","x":0.1,"y":1.33},{"s":"h14","x":0.2,"y":1.23},{"s":"h14","x":0.3,"y":0.95},{"s":"h14","x":0.4,"y":0.66},{"s":"h14","x":0.5,"y":0.41},{"s":"h14","x":0.6,"y":0.22},{"s":"h14","x":0.7,"y":0.105},{"s":"h14","x":0.8,"y":0.045},{"s":"h14","x":0.9,"y":0.016},{"s":"h14","x":1,"y":0.005},
{"s":"h15","x":-2,"y":0.003},{"s":"h15","x":-1.9,"y":0.005},{"s":"h15","x":-1.8,"y":0.007},{"s":"h15","x":-1.7,"y":0.01},{"s":"h15","x":-1.6,"y":0.014},{"s":"h15","x":-1.5,"y":0.02},{"s":"h15","x":-1.4,"y":0.028},{"s":"h15","x":-1.3,"y":0.04},{"s":"h15","x":-1.2,"y":0.06},{"s":"h15","x":-1.1,"y":0.08},{"s":"h15","x":-1,"y":0.1},{"s":"h15","x":-0.9,"y":0.13},{"s":"h15","x":-0.8,"y":0.17},{"s":"h15","x":-0.7,"y":0.22},{"s":"h15","x":-0.6,"y":0.26},{"s":"h15","x":-0.5,"y":0.28},{"s":"h15","x":-0.4,"y":0.31},{"s":"h15","x":-0.3,"y":0.4},{"s":"h15","x":-0.2,"y":0.57},{"s":"h15","x":-0.1,"y":0.85},{"s":"h15","x":0,"y":1.14},{"s":"h15","x":0.1,"y":1.29},{"s":"h15","x":0.2,"y":1.23},{"s":"h15","x":0.3,"y":0.98},{"s":"h15","x":0.4,"y":0.7},{"s":"h15","x":0.5,"y":0.44},{"s":"h15","x":0.6,"y":0.25},{"s":"h15","x":0.7,"y":0.12},{"s":"h15","x":0.8,"y":0.05},{"s":"h15","x":0.9,"y":0.018},{"s":"h15","x":1,"y":0.006},
{"s":"h16","x":-2,"y":0.004},{"s":"h16","x":-1.9,"y":0.008},{"s":"h16","x":-1.8,"y":0.011},{"s":"h16","x":-1.7,"y":0.015},{"s":"h16","x":-1.6,"y":0.021},{"s":"h16","x":-1.5,"y":0.03},{"s":"h16","x":-1.4,"y":0.042},{"s":"h16","x":-1.3,"y":0.06},{"s":"h16","x":-1.2,"y":0.085},{"s":"h16","x":-1.1,"y":0.11},{"s":"h16","x":-1,"y":0.14},{"s":"h16","x":-0.9,"y":0.17},{"s":"h16","x":-0.8,"y":0.21},{"s":"h16","x":-0.7,"y":0.27},{"s":"h16","x":-0.6,"y":0.32},{"s":"h16","x":-0.5,"y":0.34},{"s":"h16","x":-0.4,"y":0.38},{"s":"h16","x":-0.3,"y":0.5},{"s":"h16","x":-0.2,"y":0.68},{"s":"h16","x":-0.1,"y":0.93},{"s":"h16","x":0,"y":1.14},{"s":"h16","x":0.1,"y":1.2},{"s":"h16","x":0.2,"y":1.08},{"s":"h16","x":0.3,"y":0.83},{"s":"h16","x":0.4,"y":0.56},{"s":"h16","x":0.5,"y":0.33},{"s":"h16","x":0.6,"y":0.17},{"s":"h16","x":0.7,"y":0.08},{"s":"h16","x":0.8,"y":0.032},{"s":"h16","x":0.9,"y":0.011},{"s":"h16","x":1,"y":0.004}
]},
"vconcat":[
{"width":600,"height":429,"data":{"name":"A"},
"layer":[
{"transform":[{"filter":"datum.s != 'k'"}],
"mark":{"type":"line","color":"#7a7a7a","strokeWidth":1,"interpolate":"monotone"},
"encoding":{"x":{"field":"x","type":"quantitative","scale":{"domain":[-1,2],"nice":false,"zero":false},"axis":{"values":[-1,0,1,2],"labelExpr":"'' + datum.value","title":"Log Factor of Safety","labelPadding":12,"titlePadding":14}},
"y":{"field":"y","type":"quantitative","scale":{"domain":[0,1.4],"nice":false},"axis":{"values":[0,0.2,0.4,0.6,0.8,1,1.2,1.4],"labelExpr":"'' + datum.value","title":"Density","labelPadding":17,"titlePadding":11}},
"detail":{"field":"s"}}},
{"transform":[{"filter":"datum.s == 'k'"}],
"mark":{"type":"line","color":"#000000","strokeWidth":6,"interpolate":"monotone"},
"encoding":{"x":{"field":"x","type":"quantitative"},"y":{"field":"y","type":"quantitative"}}},
{"data":{"values":[{"t":"A","x":1.8,"y":1.27}]},
"mark":{"type":"text","fontSize":48,"align":"center","baseline":"middle","color":"#000000"},
"encoding":{"x":{"field":"x","type":"quantitative"},"y":{"field":"y","type":"quantitative"},"text":{"field":"t"}}}
]},
{"width":600,"height":428,"data":{"name":"B"},
"layer":[
{"transform":[{"filter":"datum.s != 'k'"}],
"mark":{"type":"line","color":"#7a7a7a","strokeWidth":1,"interpolate":"monotone"},
"encoding":{"x":{"field":"x","type":"quantitative","scale":{"domain":[-2,1],"nice":false,"zero":false},"axis":{"values":[-2,-1,0,1],"labelExpr":"'' + datum.value","title":"Log Factor of Safety","labelPadding":12,"titlePadding":14}},
"y":{"field":"y","type":"quantitative","scale":{"domain":[0,1.6],"nice":false},"axis":{"values":[0,0.2,0.4,0.6,0.8,1,1.2,1.4,1.6],"labelExpr":"'' + datum.value","title":"Density","labelPadding":17,"titlePadding":11}},
"detail":{"field":"s"}}},
{"transform":[{"filter":"datum.s == 'k'"}],
"mark":{"type":"line","color":"#000000","strokeWidth":6,"interpolate":"monotone"},
"encoding":{"x":{"field":"x","type":"quantitative"},"y":{"field":"y","type":"quantitative"}}},
{"data":{"values":[{"t":"B","x":0.82,"y":1.48}]},
"mark":{"type":"text","fontSize":48,"align":"center","baseline":"middle","color":"#000000"},
"encoding":{"x":{"field":"x","type":"quantitative"},"y":{"field":"y","type":"quantitative"},"text":{"field":"t"}}}
]}
]
}
